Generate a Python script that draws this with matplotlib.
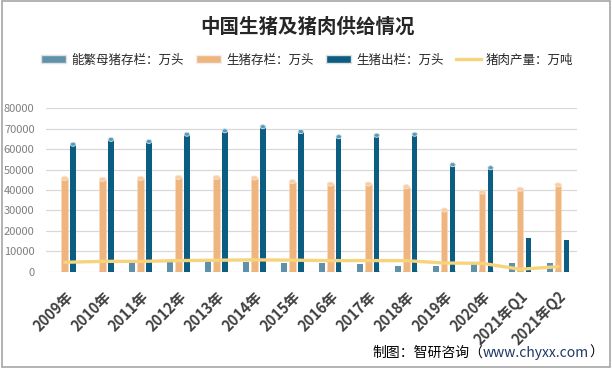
import numpy as np
import matplotlib
matplotlib.use("Agg")
import matplotlib.pyplot as plt
from matplotlib.patches import Ellipse, Rectangle
from matplotlib.lines import Line2D
from matplotlib.patches import Patch

plt.rcParams['font.family'] = ['Noto Sans CJK SC', 'DejaVu Sans']

# ====================== DATA ======================
categories = ['2009年', '2010年', '2011年', '2012年', '2013年', '2014年', '2015年',
              '2016年', '2017年', '2018年', '2019年', '2020年', '2021年Q1', '2021年Q2']
sows = [np.nan, np.nan, 4900, 5000, 5000, 4800, 4200, 4100, 3700, 3000, 3000, 4100, 4300, 4500]
stock = [45700, 45200, 45700, 46200, 46200, 45900, 44100, 42900, 42900, 41600, 30200, 39000, 40400, 42500]
slaughter = [62400, 64800, 63800, 67300, 69000, 71000, 68600, 66100, 66800, 67300, 52400, 50900, 16500, 15500]
pork = [4600, 5070, 5060, 5440, 5620, 5800, 5650, 5430, 5450, 5400, 4250, 4110, 1200, 2450]
# the quarterly slaughter bars have flat tops in the original
cap_out = [True] * 12 + [False, False]

names = ['能繁母猪存栏：万头', '生猪存栏：万头', '生猪出栏：万头', '猪肉产量：万吨']
C_SOW = '#5f91aa'
C_STOCK = '#efb57f'
C_STOCK_CAP = '#f6cfa6'
C_OUT = '#0b5d82'
C_OUT_CAP = '#5b9bb5'
C_LINE = '#f7d47c'

# ====================== FIGURE ======================
fig = plt.figure(figsize=(6.12, 3.68), dpi=100)
ax = fig.add_axes([0.0747, 0.2617, 0.8683, 0.444])

x = np.arange(len(categories))
off = 0.22
w = 0.17
cap_h = 2000

ax.bar(x - off, sows, 0.16, color=C_SOW, zorder=2)
ax.bar(x, stock, w, color=C_STOCK, edgecolor='#f8dcc0', lw=0.4, zorder=2)
ax.bar(x + off, slaughter, 0.145, color=C_OUT, zorder=2)

for i in range(len(x)):
    ax.add_patch(Ellipse((x[i], stock[i]), w, cap_h, facecolor=C_STOCK_CAP,
                         edgecolor='#fbe3cc', lw=0.6, zorder=3))
    ax.add_patch(Ellipse((x[i], 0), w, cap_h * 0.8, facecolor=C_STOCK, lw=0, zorder=2))
    if cap_out[i]:
        ax.add_patch(Ellipse((x[i] + off, slaughter[i]), 0.145, cap_h, facecolor=C_OUT_CAP,
                             edgecolor='#d5e6ee', lw=0.6, zorder=3))
        ax.add_patch(Ellipse((x[i] + off, 0), 0.145, cap_h * 0.8, facecolor=C_OUT, lw=0, zorder=2))

ax.plot(x, pork, color=C_LINE, lw=2.4, solid_capstyle='round', zorder=4)

ax.set_xlim(-0.5, len(x) - 0.5)
ax.set_ylim(0, 80000)
ax.set_yticks(range(0, 80001, 10000))
ax.grid(axis='y', color='#d9d9d9', lw=0.9, zorder=0)
ax.set_axisbelow(True)
for s in ax.spines.values():
    s.set_visible(False)
ax.tick_params(axis='both', length=0)
ax.tick_params(axis='y', labelsize=8, labelcolor='#7f7f7f', pad=8)
ax.set_xticks(x)
ax.set_xticklabels(categories, rotation=45, ha='right', va='top', rotation_mode='anchor',
                   fontsize=10.5, fontweight='bold', color='#404040')
ax.tick_params(axis='x', pad=12)

# title
fig.text(0.503, 1 - 27 / 368, '中国生猪及猪肉供给情况', ha='center', va='center',
         fontsize=14, fontweight='bold', color='#262626')

# legend
handles = [Patch(facecolor=C_SOW, edgecolor='#e0e0e0'),
           Patch(facecolor=C_STOCK, edgecolor='#f0f0f0'),
           Patch(facecolor=C_OUT, edgecolor='#e0e0e0'),
           Line2D([], [], color=C_LINE, lw=2.4)]
fig.legend(handles, names, loc='center', bbox_to_anchor=(0.502, 1 - 60 / 368), ncol=4,
           frameon=False, fontsize=9, handlelength=2.0, handleheight=0.55,
           handletextpad=0.4, columnspacing=1.0, labelcolor='#262626')

# source
fig.canvas.draw()
r = fig.canvas.get_renderer()
y_src = 1 - 353 / 368
xr = 603 / 612
t3 = fig.text(xr, y_src, '）', ha='right', va='center', fontsize=10, color='black')
w3 = t3.get_window_extent(r).width / fig.bbox.width
t2 = fig.text(xr - w3, y_src, 'www.chyxx.com', ha='right', va='center', fontsize=10, color='#1f3864')
w2 = t2.get_window_extent(r).width / fig.bbox.width
fig.text(xr - w3 - w2, y_src, '制图：智研咨询（', ha='right', va='center', fontsize=10, color='black')

# border
fig.add_artist(Rectangle((0.003, 0.003), 0.994, 0.994, transform=fig.transFigure,
                         fill=False, edgecolor='#a6a6a6', lw=1.2))

fig.savefig('out.png', dpi=100)
